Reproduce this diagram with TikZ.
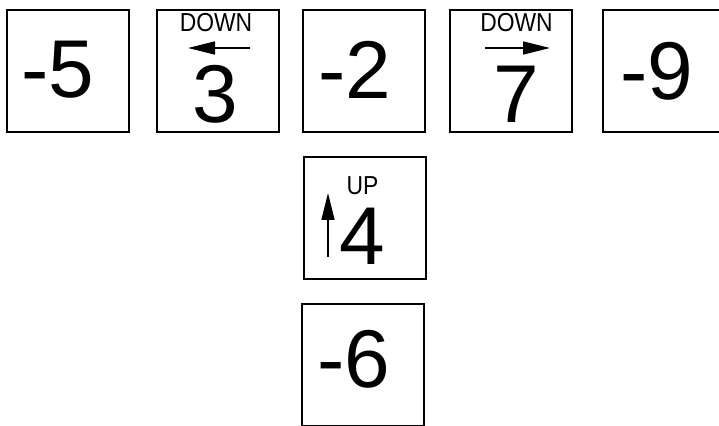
\documentclass[tikz,border=0pt]{standalone}
\usepackage{fontspec}
\setmainfont{Liberation Sans}
\usetikzlibrary{arrows.meta, positioning}

\newcommand{\squeeze}[1]{\scalebox{0.88}[1]{#1}}

\begin{document}
\begin{tikzpicture}[x=0.5pt, y=0.5pt,
    tile/.style={draw, line width=1pt, rectangle, minimum size=61pt, inner sep=0pt, outer sep=0pt},
    num/.style={font=\fontsize{41}{41}\selectfont, inner sep=0pt},
    tag/.style={font=\fontsize{13}{13}\selectfont, inner sep=0pt},
    move/.style={-{Triangle[length=13.5pt, width=6.5pt]}, line width=0.8pt}]
    \useasboundingbox (0,0) rectangle (719,426);

    % top row
    \node[tile] (T1) at (67.5, 355) {};
    \node[tile] (T2) at (218, 355) {};
    \node[tile] (T3) at (364, 355) {};
    \node[tile] (T4) at (511, 355) {};
    \node[tile] (T5) at (664, 355) {};

    % column below the middle
    \node[tile] (T6) at (364.5, 208) {};
    \node[tile] (T7) at (363, 61) {};

    % values
    \node[num] (N1) at (58, 356) {-5};
    \node[num] (N2) at (215, 332) {3};
    \node[num] (N3) at (355, 356) {-2};
    \node[num] (N4) at (516, 332) {7};
    \node[num] (N5) at (657, 354.5) {-9};
    \node[num] (N6) at (362, 190) {4};
    \node[num] (N7) at (354, 67) {-6};

    % moves
    \node[tag] (D2) at (216, 403.5) {\squeeze{DOWN}};
    \node[tag] (D4) at (516.5, 403.5) {\squeeze{DOWN}};
    \node[tag] (U6) at (362.5, 240) {\squeeze{UP}};

    \coordinate (A2s) at (250, 378);
    \coordinate (A2e) at (188, 378);
    \coordinate (A4s) at (485, 378);
    \coordinate (A4e) at (550, 378);
    \coordinate (A6s) at (328, 169);
    \coordinate (A6e) at (328, 233);
    \draw[move] (A2s) -- (A2e);
    \draw[move] (A4s) -- (A4e);
    \draw[move] (A6s) -- (A6e);
\end{tikzpicture}
\end{document}
